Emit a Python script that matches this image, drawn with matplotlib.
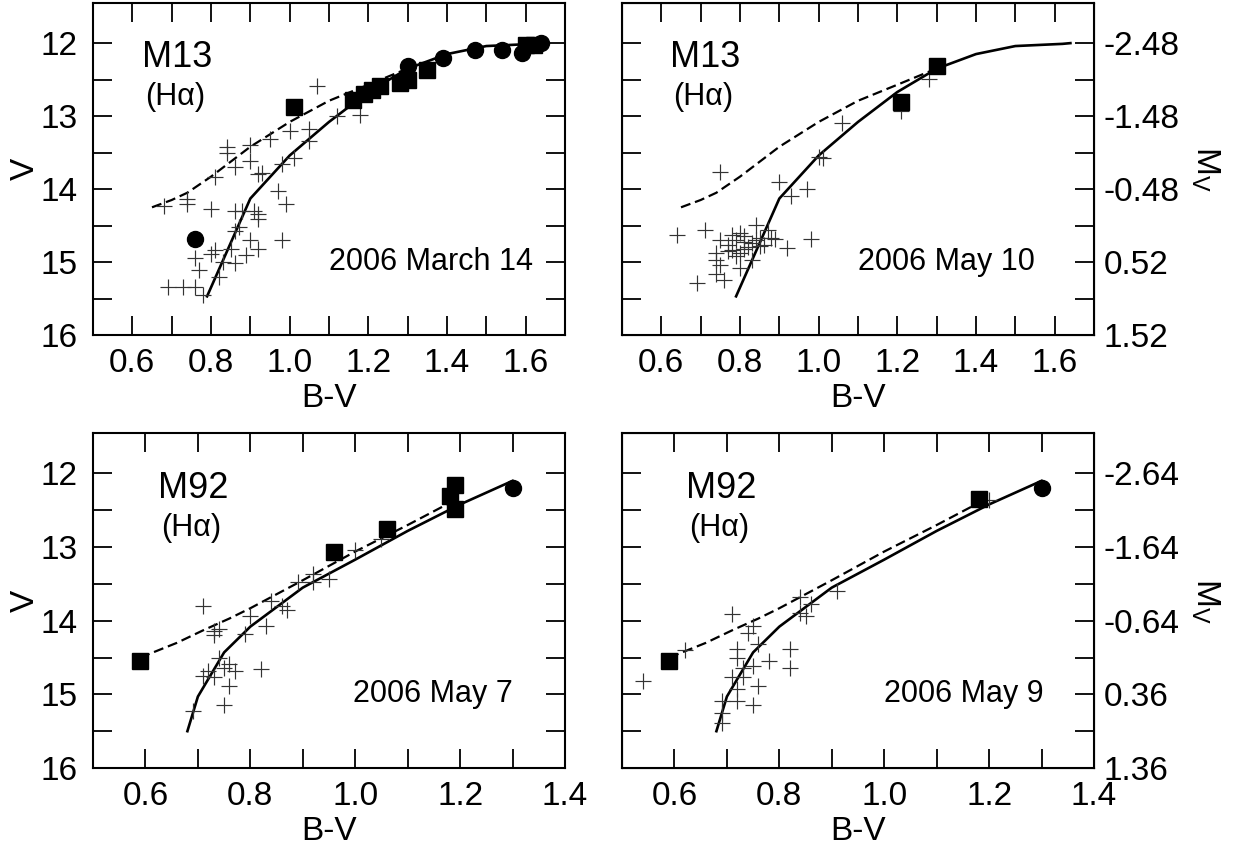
import matplotlib
matplotlib.use("Agg")
import matplotlib.pyplot as plt

plt.rcParams['font.family'] = ['Liberation Sans', 'DejaVu Sans']
plt.rcParams['mathtext.fontset'] = 'custom'
plt.rcParams['mathtext.rm'] = 'Liberation Sans'
plt.rcParams['mathtext.default'] = 'regular'
plt.rcParams['axes.unicode_minus'] = False

# ---- M13 isochrones (top panels)
m13_iso_bv = [0.79, 0.90, 1.00, 1.10, 1.20, 1.30, 1.40, 1.50, 1.62, 1.64]
m13_iso_v = [15.47, 14.13, 13.54, 13.08, 12.67, 12.35, 12.15, 12.04, 12.01, 12.0]
m13_agb_bv = [0.65, 0.70, 0.74, 0.80, 0.90, 1.00, 1.10, 1.20, 1.29]
m13_agb_v = [14.25, 14.15, 14.05, 13.83, 13.42, 13.08, 12.79, 12.57, 12.37]

# M13, 2006 March 14
mar14_sq_bv = [1.01, 1.16, 1.19, 1.21, 1.23, 1.28, 1.30, 1.35, 1.60, 1.62]
mar14_sq_v = [12.88, 12.78, 12.70, 12.64, 12.59, 12.55, 12.50, 12.37, 12.03, 12.02]
mar14_ci_bv = [0.76, 1.30, 1.39, 1.47, 1.54, 1.59, 1.64]
mar14_ci_v = [14.68, 12.31, 12.20, 12.10, 12.09, 12.13, 12.00]
mar14_cr_bv = [1.07, 1.18, 1.12, 1.00, 1.05, 0.95, 0.90, 0.84, 0.84, 1.05, 0.90,
               0.86, 0.92, 0.93, 0.98, 1.01, 0.81, 0.97, 0.99, 0.68, 0.74, 0.74,
               0.80, 0.86, 0.88, 0.91, 0.92, 0.92, 0.86, 0.87, 0.98, 0.90, 0.92,
               0.81, 0.80, 0.85, 0.89, 0.86, 0.83, 0.76, 0.77, 0.82, 0.69, 0.73,
               0.76, 0.78]
mar14_cr_v = [12.59, 12.99, 13.00, 13.20, 13.18, 13.32, 13.39, 13.43, 13.50, 13.34,
              13.61, 13.70, 13.80, 13.78, 13.66, 13.57, 13.84, 14.02, 14.21, 14.23,
              14.14, 14.20, 14.27, 14.30, 14.30, 14.30, 14.41, 14.34, 14.57, 14.52,
              14.70, 14.70, 14.82, 14.84, 14.89, 14.82, 14.91, 15.02, 15.00, 14.95,
              15.11, 15.20, 15.34, 15.34, 15.34, 15.45]

# M13, 2006 May 10
may10_sq_bv = [1.21, 1.30]
may10_sq_v = [12.81, 12.31]
may10_cr_bv = [1.28, 1.21, 1.06, 1.00, 1.01, 0.90, 0.93, 0.97, 0.75, 0.64, 0.71,
               0.98, 0.92, 0.89, 0.69, 0.76, 0.74, 0.78, 0.80, 0.75, 0.77, 0.79,
               0.81, 0.83, 0.84, 0.86, 0.87, 0.84, 0.85, 0.88, 0.74, 0.74, 0.75,
               0.78, 0.80, 0.81, 0.83, 0.80, 0.79, 0.81, 0.82, 0.77, 0.85]
may10_cr_v = [12.49, 12.93, 13.10, 13.56, 13.58, 13.90, 14.10, 14.00, 13.76, 14.63,
              14.56, 14.69, 14.81, 14.69, 15.29, 15.24, 15.17, 14.63, 14.60, 14.70,
              14.76, 14.70, 14.72, 14.74, 14.70, 14.76, 14.56, 14.49, 14.67, 14.67,
              14.88, 14.97, 15.04, 14.83, 14.88, 14.82, 14.97, 15.08, 14.92, 14.65,
              14.80, 14.85, 14.78]

# ---- M92 isochrones (bottom panels)
m92_iso_bv = [0.68, 0.70, 0.75, 0.80, 0.90, 1.00, 1.10, 1.20, 1.30]
m92_iso_v = [15.50, 15.03, 14.43, 14.08, 13.55, 13.17, 12.78, 12.42, 12.10]
m92_agb_bv = [0.59, 0.66, 0.71, 0.76, 0.80, 0.85, 0.90, 1.00, 1.10, 1.18]
m92_agb_v = [14.50, 14.30, 14.13, 13.97, 13.83, 13.64, 13.45, 13.06, 12.70, 12.40]

# M92, 2006 May 7
may7_sq_bv = [0.59, 0.96, 1.06, 1.19, 1.18, 1.19]
may7_sq_v = [14.54, 13.07, 12.76, 12.16, 12.30, 12.48]
may7_ci_bv = [1.30]
may7_ci_v = [12.20]
may7_cr_bv = [1.00, 1.05, 0.95, 0.92, 0.92, 0.89, 0.84, 0.86, 0.87, 0.83, 0.80,
              0.79, 0.71, 0.73, 0.74, 0.73, 0.74, 0.76, 0.75, 0.77, 0.72, 0.71,
              0.73, 0.76, 0.82, 0.75, 0.69]
may7_cr_v = [13.04, 12.89, 13.43, 13.36, 13.48, 13.48, 13.73, 13.80, 13.86, 14.07,
             13.93, 14.18, 13.80, 14.14, 14.11, 14.20, 14.50, 14.59, 14.64, 14.68,
             14.68, 14.75, 14.77, 14.89, 14.65, 15.14, 15.23]

# M92, 2006 May 9
may9_sq_bv = [0.59, 1.18]
may9_sq_v = [14.54, 12.35]
may9_ci_bv = [1.30]
may9_ci_v = [12.20]
may9_cr_bv = [1.20, 0.91, 0.84, 0.86, 0.84, 0.85, 0.71, 0.74, 0.75, 0.76, 0.72,
              0.72, 0.78, 0.82, 0.82, 0.73, 0.75, 0.71, 0.73, 0.76, 0.72, 0.69,
              0.72, 0.75, 0.69, 0.69, 0.54, 0.62]
may9_cr_v = [12.36, 13.59, 13.68, 13.77, 13.89, 13.93, 13.91, 14.16, 14.07, 14.32,
             14.39, 14.50, 14.55, 14.39, 14.64, 14.64, 14.61, 14.77, 14.77, 14.89,
             14.93, 15.09, 15.09, 15.14, 15.25, 15.39, 14.82, 14.40]

v_ticks = [12, 12.5, 13, 13.5, 14, 14.5, 15, 15.5, 16]
v_labels = ['12', '', '13', '', '14', '', '15', '', '16']
mv_top = ['-2.48', '', '-1.48', '', '-0.48', '', '0.52', '', '1.52']
mv_bot = ['-2.64', '', '-1.64', '', '-0.64', '', '0.36', '', '1.36']
bv_top_ticks = [0.6, 0.7, 0.8, 0.9, 1.0, 1.1, 1.2, 1.3, 1.4, 1.5, 1.6]
bv_top_labels = ['0.6', '', '0.8', '', '1.0', '', '1.2', '', '1.4', '', '1.6']
bv_bot_ticks = [0.6, 0.7, 0.8, 0.9, 1.0, 1.1, 1.2, 1.3, 1.4]
bv_bot_labels = ['0.6', '', '0.8', '', '1.0', '', '1.2', '', '1.4']

fig = plt.figure(figsize=(12.42, 8.46), dpi=100)

W, H = 1242, 846
def box(x0, y0, x1, y1):
    return [x0 / W, 1 - y1 / H, (x1 - x0) / W, (y1 - y0) / H]

ax_tl = fig.add_axes(box(93, 3, 565, 335))
ax_tr = fig.add_axes(box(622, 3, 1094, 335))
ax_bl = fig.add_axes(box(93, 433, 565, 768))
ax_br = fig.add_axes(box(622, 433, 1094, 768))

TS = 24


def style(ax, xlim, xt, xl, left, mv=None):
    ax.set_xlim(*xlim)
    ax.set_ylim(16, 11.45)
    ax.set_xticks(xt, xl)
    ax.set_yticks(v_ticks, v_labels if left else [''] * len(v_ticks))
    ax.tick_params(direction='in', top=True, right=True, length=14, width=1.3,
                   labelsize=TS)
    ax.tick_params(axis='x', pad=9)
    ax.tick_params(axis='y', pad=11)
    for s in ax.spines.values():
        s.set_linewidth(1.5)
    ax.set_xlabel('B-V', fontsize=TS, labelpad=3)
    if left:
        ax.set_ylabel('V', fontsize=TS, labelpad=0)
    if mv is not None:
        tw = ax.twinx()
        tw.set_ylim(16, 11.45)
        tw.set_yticks(v_ticks, mv)
        tw.tick_params(direction='in', length=14, width=1.3, labelsize=TS, pad=7)
        tw.set_ylabel('M$_V$', fontsize=TS, rotation=270, labelpad=30)


def draw(ax, iso_bv, iso_v, agb_bv, agb_v, cr_bv, cr_v, sq_bv, sq_v, ci_bv=None, ci_v=None):
    ax.plot(iso_bv, iso_v, color='black', lw=1.9)
    ax.plot(agb_bv, agb_v, color='black', lw=1.6, ls=(0, (4.5, 2.2)))
    ax.plot(cr_bv, cr_v, ls='none', marker='+', ms=11.5, mew=0.85, color='#333333')
    ax.plot(sq_bv, sq_v, ls='none', marker='s', ms=12, color='black')
    if ci_bv is not None:
        ax.plot(ci_bv, ci_v, ls='none', marker='o', ms=11.5, color='black')


draw(ax_tl, m13_iso_bv, m13_iso_v, m13_agb_bv, m13_agb_v, mar14_cr_bv, mar14_cr_v,
     mar14_sq_bv, mar14_sq_v, mar14_ci_bv, mar14_ci_v)
draw(ax_tr, m13_iso_bv, m13_iso_v, m13_agb_bv, m13_agb_v, may10_cr_bv, may10_cr_v,
     may10_sq_bv, may10_sq_v)
draw(ax_bl, m92_iso_bv, m92_iso_v, m92_agb_bv, m92_agb_v, may7_cr_bv, may7_cr_v,
     may7_sq_bv, may7_sq_v, may7_ci_bv, may7_ci_v)
draw(ax_br, m92_iso_bv, m92_iso_v, m92_agb_bv, m92_agb_v, may9_cr_bv, may9_cr_v,
     may9_sq_bv, may9_sq_v, may9_ci_bv, may9_ci_v)

style(ax_tl, (0.5, 1.7), bv_top_ticks, bv_top_labels, True)
style(ax_tr, (0.5, 1.7), bv_top_ticks, bv_top_labels, False, mv_top)
style(ax_bl, (0.5, 1.4), bv_bot_ticks, bv_bot_labels, True)
style(ax_br, (0.5, 1.4), bv_bot_ticks, bv_bot_labels, False, mv_bot)

panels = [(ax_tl, 'M13', 0.178, '2006 March 14', 0.932),
          (ax_tr, 'M13', 0.176, '2006 May 10', 0.875),
          (ax_bl, 'M92', 0.212, '2006 May 7', 0.89),
          (ax_br, 'M92', 0.21, '2006 May 9', 0.893)]
for ax, name, nx, date, dx in panels:
    ax.text(nx, 0.835, name, transform=ax.transAxes, fontsize=26,
            ha='center', va='center')
    ax.text(nx - 0.004, 0.716, '(H\u03b1)', transform=ax.transAxes, fontsize=22,
            ha='center', va='center')
    ax.text(dx, 0.22, date, transform=ax.transAxes, fontsize=22,
            ha='right', va='center')

fig.savefig('out.png', dpi=100)
